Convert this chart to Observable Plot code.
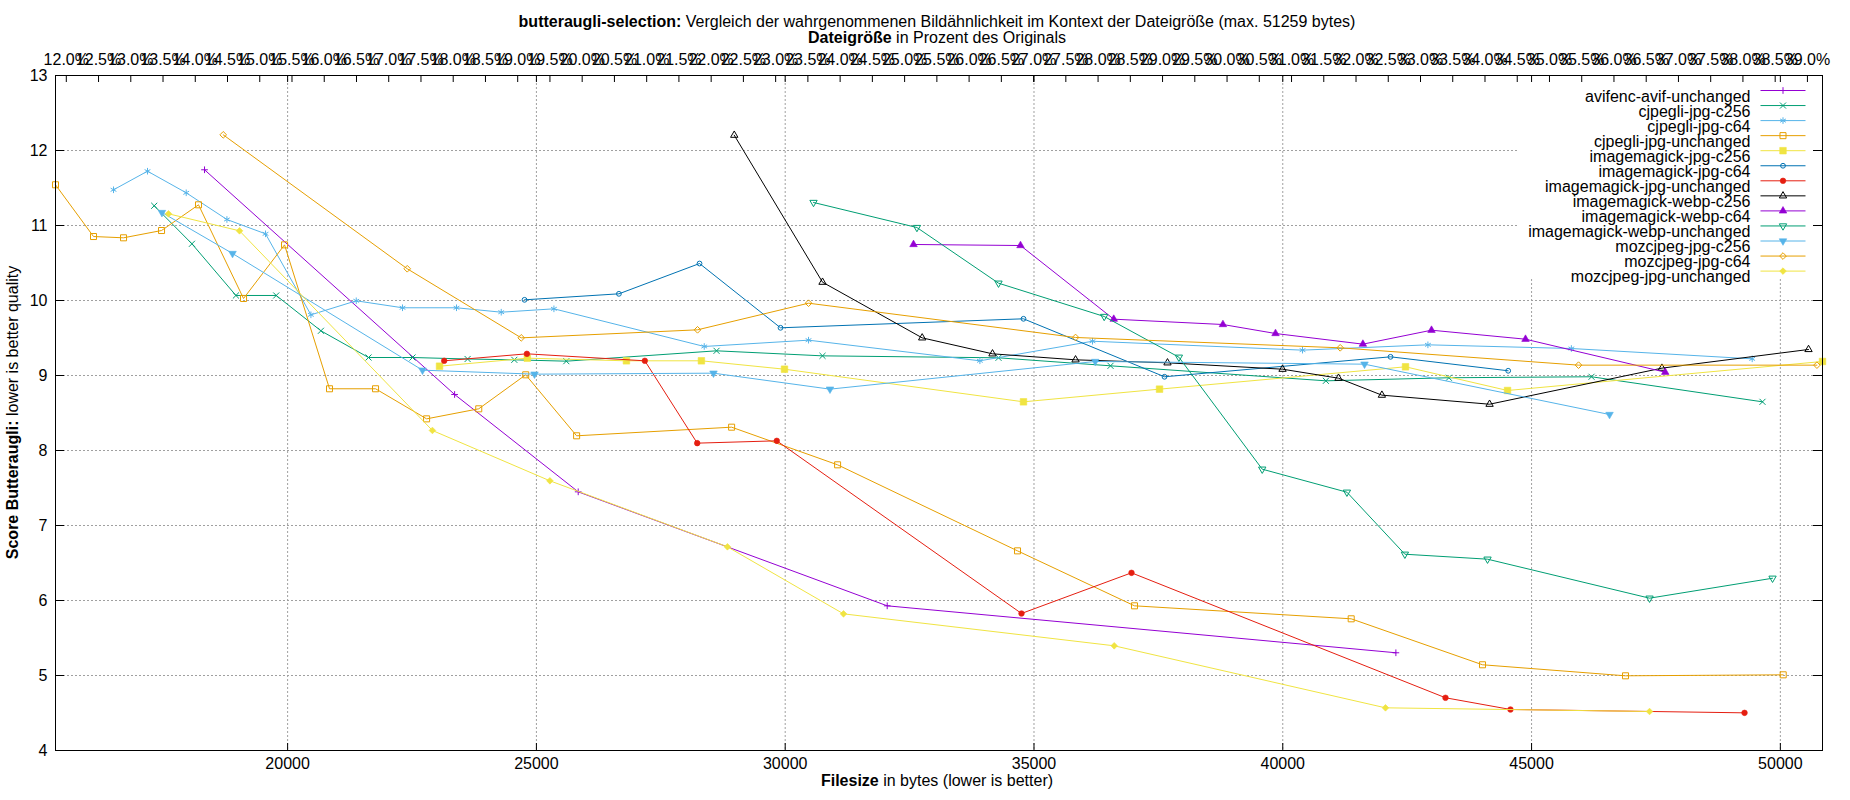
<!DOCTYPE html>
<html>
<head>
<meta charset="utf-8">
<script src="https://cdn.jsdelivr.net/npm/d3@7"></script>
<script src="https://cdn.jsdelivr.net/npm/@observablehq/plot@0.6"></script>
<style>
  body { margin: 0; background: #fff; }
  svg text { font-family: "Liberation Sans", Arial, sans-serif; white-space: pre; }
</style>
</head>
<body>
<div id="chart"></div>
<script>
// ---- data: [filesize in bytes, butteraugli score] ----
const avifencAvifUnchanged = [[18330,11.743],[23356,8.747],[25840,7.449],[32050,5.929],[42273,5.303]];
const cjpegliJpgC256 = [[17319,11.263],[18077,10.756],[18961,10.067],[19771,10.067],[20669,9.596],[21626,9.24],[22510,9.24],[23617,9.22],[24556,9.209],[25601,9.191],[28620,9.329],[30750,9.262],[34287,9.236],[36538,9.129],[40866,8.929],[43338,8.97],[46205,8.983],[49641,8.649]];
const cjpegliJpgC64 = [[16501,11.476],[17184,11.724],[17962,11.436],[18780,11.08],[19556,10.889],[20468,9.809],[21379,9.996],[22309,9.903],[23394,9.903],[24293,9.844],[25352,9.889],[28373,9.387],[30469,9.471],[33913,9.196],[36176,9.457],[40397,9.338],[42917,9.409],[45800,9.36],[49434,9.222]];
const cjpegliJpgUnchanged = [[15335,11.543],[16099,10.853],[16702,10.836],[17466,10.933],[18209,11.276],[19114,10.027],[19938,10.742],[20842,8.823],[21767,8.823],[22793,8.422],[23841,8.556],[24785,9.009],[25808,8.196],[28923,8.311],[31053,7.809],[34669,6.662],[37020,5.929],[41375,5.756],[44014,5.143],[46888,4.996],[50057,5.009]];
const imagemagickJpgC256 = [[23053,9.124],[24817,9.231],[26809,9.196],[28316,9.196],[29986,9.084],[34789,8.649],[37523,8.818],[42467,9.116],[44517,8.8],[50847,9.187]];
const imagemagickJpgC64 = [[24761,10.009],[26658,10.089],[28278,10.493],[29906,9.636],[34789,9.756],[37623,8.983],[42165,9.249],[44530,9.063]];
const imagemagickJpgUnchanged = [[23147,9.196],[24809,9.289],[27179,9.196],[28232,8.098],[29831,8.129],[34749,5.827],[36960,6.369],[43270,4.703],[44576,4.547],[49280,4.502]];
const imagemagickWebpC256 = [[28976,12.204],[30750,10.244],[32753,9.502],[34166,9.289],[35835,9.209],[37683,9.169],[39995,9.084],[41120,8.964],[41992,8.738],[44156,8.617],[47620,9.098],[50566,9.347]];
const imagemagickWebpC64 = [[32579,10.747],[34729,10.733],[36603,9.751],[38797,9.68],[39854,9.56],[41610,9.418],[42989,9.604],[44878,9.484],[47686,9.044]];
const imagemagickWebpUnchanged = [[30569,11.307],[32647,10.973],[34287,10.231],[36411,9.787],[37912,9.244],[39587,7.751],[41289,7.444],[42454,6.617],[44115,6.551],[47371,6.031],[49843,6.297]];
const mozcjpegJpgC256 = [[17474,11.173],[18893,10.627],[22711,9.071],[24962,9.018],[28559,9.031],[30900,8.818],[36231,9.187],[41643,9.151],[46567,8.48]];
const mozcjpegJpgC64 = [[18706,12.209],[22404,10.423],[24695,9.502],[28238,9.609],[30469,9.964],[35835,9.507],[41154,9.369],[45944,9.138],[50735,9.138]];
const mozcjpegJpgUnchanged = [[17606,11.156],[19033,10.929],[22910,8.267],[25271,7.596],[28839,6.716],[31172,5.822],[36612,5.396],[42064,4.569],[47371,4.52]];

const seriesNames = [
  "avifenc-avif-unchanged","cjpegli-jpg-c256","cjpegli-jpg-c64","cjpegli-jpg-unchanged",
  "imagemagick-jpg-c256","imagemagick-jpg-c64","imagemagick-jpg-unchanged",
  "imagemagick-webp-c256","imagemagick-webp-c64","imagemagick-webp-unchanged",
  "mozcjpeg-jpg-c256","mozcjpeg-jpg-c64","mozcjpeg-jpg-unchanged"
];
const seriesValues = [
  avifencAvifUnchanged, cjpegliJpgC256, cjpegliJpgC64, cjpegliJpgUnchanged,
  imagemagickJpgC256, imagemagickJpgC64, imagemagickJpgUnchanged,
  imagemagickWebpC256, imagemagickWebpC64, imagemagickWebpUnchanged,
  mozcjpegJpgC256, mozcjpegJpgC64, mozcjpegJpgUnchanged
];

// tick values
const xTicks = [20000, 25000, 30000, 35000, 40000, 45000, 50000];
const yTicks = [4, 5, 6, 7, 8, 9, 10, 11, 12, 13];
const yGridTicks = [5, 6, 7, 8, 9, 10, 11, 12];
const topTickPercents = d3.range(24, 79).map(i => i / 2); // 12.0% … 39.0%
const originalBytes = 129600;

// ---- styles ----
const seriesColors = ["#9400D3","#009E73","#56B4E9","#E69F00","#F0E442","#0072B2","#E51E10","#000000","#9400D3","#009E73","#56B4E9","#E69F00","#F0E442"];
const seriesMarkers = [
  {symbol: "plus", r: 2.3, filled: false},
  {symbol: "times", r: 2.85, filled: false},
  {symbol: "asterisk", r: 3.1, filled: false},
  {symbol: "square", r: 3.4, filled: false},
  {symbol: "square", r: 3.7, filled: true},
  {symbol: "circle", r: 2.4, filled: false},
  {symbol: "circle", r: 2.8, filled: true},
  {symbol: "triangle2", r: 3.5, filled: false},
  {symbol: "triangle", r: 2.8, filled: true},
  {symbol: "triangle2", r: 3.5, filled: false, rotate: 180},
  {symbol: "triangle", r: 2.8, filled: true, rotate: 180},
  {symbol: "diamond2", r: 3.0, filled: false},
  {symbol: "diamond2", r: 3.0, filled: true}
];

const W = 1850, H = 800, mL = 55, mR = 28, mT = 75, mB = 50;
const frameW = W - mL - mR, frameH = H - mT - mB;
const xDomain = d3.extent(seriesValues.flat(), d => d[0]);
const gridStyle = {stroke: "#a0a0a0", strokeOpacity: 1, strokeDasharray: "2,2", strokeWidth: 1};
const legendLine = {draw(ctx) { ctx.moveTo(-22.5, 0); ctx.lineTo(22.5, 0); }};

const marks = [];
marks.push(Plot.gridX(xTicks, gridStyle));
marks.push(Plot.gridY(yGridTicks, gridStyle));
// opaque legend box
marks.push(Plot.frame({fill: "white", stroke: "none", insetLeft: 1517 - mL, insetBottom: (H - mB) - 278}));

seriesValues.forEach((vals, i) => {
  const c = seriesColors[i], m = seriesMarkers[i];
  marks.push(Plot.line(vals, {x: d => d[0], y: d => d[1], stroke: c, strokeWidth: 1}));
  marks.push(Plot.dot(vals, {x: d => d[0], y: d => d[1], symbol: m.symbol, r: m.r, rotate: m.rotate || 0,
    fill: m.filled ? c : "none", stroke: c, strokeWidth: m.filled ? 0.6 : 1}));
});

// legend
seriesNames.forEach((name, i) => {
  const c = seriesColors[i], m = seriesMarkers[i];
  const dy = 15 + i * 15.05;
  marks.push(Plot.text([name], {frameAnchor: "top-right", text: d => d, textAnchor: "end", dx: -72, dy, fontSize: 16, fill: "black"}));
  marks.push(Plot.dot([name], {frameAnchor: "top-right", dx: -39.5, dy, symbol: legendLine, r: 1, fill: "none", stroke: c, strokeWidth: 1}));
  marks.push(Plot.dot([name], {frameAnchor: "top-right", dx: -39.5, dy, symbol: m.symbol, r: m.r, rotate: m.rotate || 0,
    fill: m.filled ? c : "none", stroke: c, strokeWidth: m.filled ? 0.6 : 1}));
});

// inward ticks
marks.push(Plot.tickX(xTicks, {x: d => d, insetTop: frameH - 7, stroke: "black"}));
marks.push(Plot.tickX(xTicks, {x: d => d, insetBottom: frameH - 7, stroke: "black"}));
marks.push(Plot.tickX(topTickPercents, {x: p => p / 100 * originalBytes, insetBottom: frameH - 7, stroke: "black"}));
marks.push(Plot.tickY(yTicks, {y: d => d, insetRight: frameW - 9, stroke: "black"}));
marks.push(Plot.tickY(yTicks, {y: d => d, insetLeft: frameW - 9, stroke: "black"}));

// axes labels
marks.push(Plot.axisX(xTicks, {anchor: "bottom", tickSize: 0, tickPadding: 7, tickFormat: d => String(d), fontSize: 16, label: null}));
marks.push(Plot.axisX(topTickPercents.map(p => p / 100 * originalBytes), {anchor: "top", tickSize: 0, tickPadding: 11,
  tickFormat: v => (v / originalBytes * 100).toFixed(1) + "%", fontSize: 16, label: null}));
marks.push(Plot.axisY(yTicks, {anchor: "left", tickSize: 0, tickPadding: 8, tickFormat: d => String(d), fontSize: 16, label: null}));

marks.push(Plot.frame({stroke: "black", strokeWidth: 1}));

const chart = Plot.plot({
  width: W, height: H,
  marginLeft: mL, marginRight: mR, marginTop: mT, marginBottom: mB,
  x: {domain: xDomain, axis: null},
  y: {domain: [4, 13], axis: null},
  style: {fontFamily: "'Liberation Sans', Arial, sans-serif", fontSize: "16px", background: "white", color: "black", overflow: "visible"},
  marks
});
document.getElementById("chart").appendChild(chart);

// titles and axis labels (mixed bold / regular)
const svg = d3.select(chart);
function addLabel(x, y, boldPart, rest, rotate) {
  const t = svg.append("text")
    .attr("text-anchor", "middle")
    .attr("font-size", 16)
    .attr("fill", "black")
    .attr("transform", `translate(${x},${y})` + (rotate ? " rotate(-90)" : ""));
  t.append("tspan").attr("font-weight", "bold").text(boldPart);
  t.append("tspan").text(rest);
}
addLabel(937, 27, "butteraugli-selection:", " Vergleich der wahrgenommenen Bildähnlichkeit im Kontext der Dateigröße (max. 51259 bytes)");
addLabel(937, 43, "Dateigröße", " in Prozent des Originals");
addLabel(937, 786.3, "Filesize", " in bytes (lower is better)");
addLabel(18, 412.5, "Score Butteraugli:", " lower is better quality", true);
</script>
</body>
</html>
